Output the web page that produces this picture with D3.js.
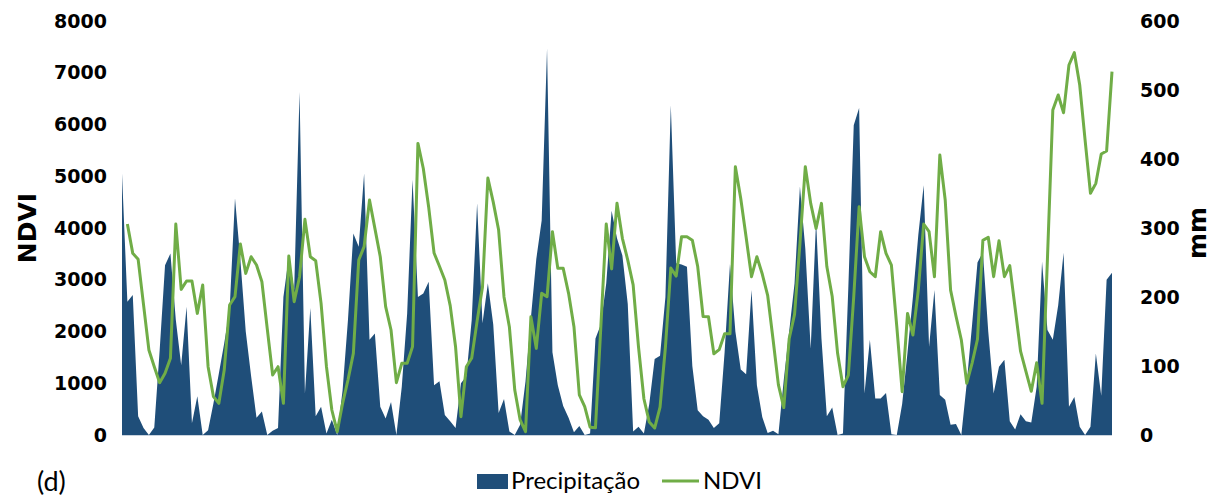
<!DOCTYPE html>
<html><head><meta charset="utf-8">
<script src="https://cdn.jsdelivr.net/npm/d3@7"></script>
<style>
html,body{margin:0;padding:0;background:#fff;}
svg{display:block;}
</style></head>
<body><svg id="chart" width="1217" height="497"></svg>
<script>
const ndviTicks = [0,1000,2000,3000,4000,5000,6000,7000,8000];
const mmTicks = [0,100,200,300,400,500,600];
const seriesNames = ["Precipitação","NDVI"];
const panelLabel = "(d)";

// Precipitation (mm), 185 consecutive observations
const precip = [379,193,203,27,10,0,11,123,246,263,
167,101,186,17,56,0,7,46,89,133,
181,343,254,150,85,25,34,0,6,10,
200,258,210,497,60,184,27,41,2,22,
0,65,167,292,273,379,138,147,41,24,
48,0,70,176,370,200,205,222,72,78,
29,20,10,75,85,167,336,162,220,160,
32,52,5,0,15,78,170,255,311,560,
120,72,42,25,4,13,0,2,140,160,
220,325,285,260,190,5,12,2,45,110,
115,200,478,249,247,244,100,36,27,22,
10,17,120,248,150,95,88,210,72,26,
3,6,1,80,150,220,360,270,125,310,
140,27,40,0,2,215,449,474,60,138,
53,53,61,1,0,45,120,200,290,362,
128,210,58,51,15,16,0,75,160,250,
265,150,60,99,109,20,8,30,20,18,
70,251,152,138,188,264,41,55,12,0,
12,118,57,225,235];

// NDVI (first observation missing)
const ndvi = [null,4077,3510,3394,2520,1642,1320,1011,1191,1481,
4077,2814,2975,2975,2350,2898,1320,741,612,1256,
2512,2673,3690,3123,3445,3284,2962,2050,1159,1320,
612,3458,2576,3059,4167,3445,3368,2544,1320,483,
64,612,1063,1578,3381,3639,4540,3993,3445,2479,
2029,1011,1385,1385,1707,5635,5150,4400,3517,3260,
2995,2500,1700,354,1320,1488,2200,2860,4966,4500,
3961,2667,2087,869,290,64,2286,1674,2737,2673,
3928,3220,3220,2737,2093,773,547,150,140,2100,
4077,3210,4480,3800,3380,2900,1700,700,250,135,
540,1700,3225,3070,3830,3830,3765,3255,2290,2285,
1570,1650,1955,1955,5185,4570,3820,3059,3445,3110,
2700,1850,970,530,1860,2330,3700,5185,4476,3993,
4476,3255,2675,1578,934,1159,2673,4411,3445,3155,
3059,3928,3510,3284,2100,837,2350,1932,2801,4077,
3928,3059,5410,4541,2800,2300,1836,1000,1390,1850,
3760,3820,3060,3755,3060,3272,2450,1620,1230,845,
1397,612,3400,6280,6570,6228,7150,7388,6763,5700,
4670,4863,5430,5488,7020];

const W = 1217, H = 497;
const plot = {left:122, right:1112, top:21, bottom:435};
const BLUE = "#1f4e79", GREEN = "#70ad47";
const svg = d3.select("#chart");

const x = d3.scaleLinear().domain([0, precip.length-1]).range([plot.left, plot.right]);
const yL = d3.scaleLinear().domain([0,8000]).range([plot.bottom, plot.top]);
const yR = d3.scaleLinear().domain([0,600]).range([plot.bottom, plot.top]);

// area
svg.append("path")
  .datum(precip)
  .attr("fill", BLUE)
  .attr("d", d3.area().x((d,i)=>x(i)).y0(yR(0)).y1(d=>yR(d)));

// baseline
svg.append("line").attr("x1",plot.left).attr("x2",plot.right)
  .attr("y1",plot.bottom+0.5).attr("y2",plot.bottom+0.5)
  .attr("stroke","#c9d3de").attr("stroke-width",1);

// NDVI line
svg.append("path")
  .datum(ndvi)
  .attr("fill","none").attr("stroke",GREEN).attr("stroke-width",3)
  .attr("stroke-linejoin","round")
  .attr("d", d3.line().defined(d=>d!=null).x((d,i)=>x(i)).y(d=>yL(d)));

const tickFont = "'DejaVu Sans', sans-serif";
// left axis
const gL = svg.append("g").attr("transform",`translate(${plot.left},0)`)
  .call(d3.axisLeft(yL).tickValues(ndviTicks).tickSize(0).tickPadding(15).tickFormat(d3.format("d")));
gL.select(".domain").remove();
gL.selectAll("text").attr("font-family",tickFont).attr("font-size",19).attr("font-weight","bold").attr("fill","#000");

// right axis
const gR = svg.append("g").attr("transform",`translate(${plot.right},0)`)
  .call(d3.axisRight(yR).tickValues(mmTicks).tickSize(0).tickPadding(28).tickFormat(d3.format("d")));
gR.select(".domain").remove();
gR.selectAll("text").attr("font-family",tickFont).attr("font-size",19).attr("font-weight","bold").attr("fill","#000");

// axis titles
svg.append("text").attr("transform","translate(36,228) rotate(-90)")
  .attr("text-anchor","middle").attr("font-family",tickFont).attr("font-weight","bold")
  .attr("font-size",25).text("NDVI");
svg.append("text").attr("transform","translate(1206,233) rotate(-90)")
  .attr("text-anchor","middle").attr("font-family",tickFont).attr("font-weight","bold")
  .attr("font-size",25).text("mm");

// panel label
svg.append("text").attr("x",37).attr("y",491).attr("font-family","Lato, sans-serif")
  .attr("font-size",27).text(panelLabel);

// legend
const lg = svg.append("g");
lg.append("rect").attr("x",477).attr("y",474).attr("width",31).attr("height",15).attr("fill",BLUE);
lg.append("text").attr("x",511).attr("y",489).attr("font-family","Lato, sans-serif")
  .attr("font-size",24).text(seriesNames[0]);
lg.append("line").attr("x1",662).attr("x2",699).attr("y1",481).attr("y2",481)
  .attr("stroke",GREEN).attr("stroke-width",3);
lg.append("text").attr("x",703).attr("y",489).attr("font-family","Lato, sans-serif")
  .attr("font-size",24).text(seriesNames[1]);
</script></body></html>
